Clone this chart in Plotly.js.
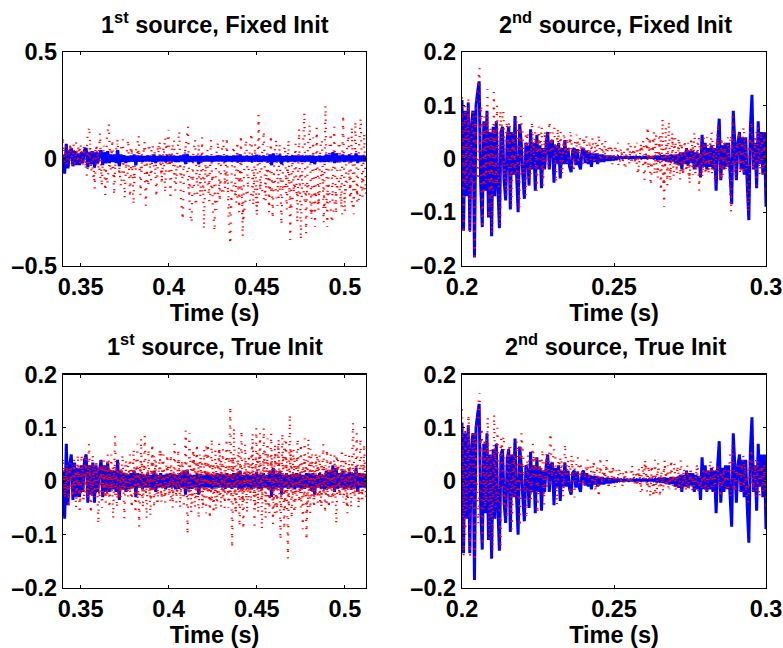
<!DOCTYPE html>
<html><head><meta charset="utf-8"><script src="https://cdn.plot.ly/plotly-3.0.1.min.js"></script>
<style>html,body{margin:0;padding:0;background:#fff}</style></head><body><div id="c" style="width:783px;height:648px"></div>
<script>
const titles=["1<sup>st</sup> source, Fixed Init","2<sup>nd</sup> source, Fixed Init","1<sup>st</sup> source, True Init","2<sup>nd</sup> source, True Init"];
const xSpan1=[0.34,0.512], xSpan2=[0.2,0.3], xSpanLeft=[0.34,0.362];
const xTicks1=[0.35,0.4,0.45,0.5], xLabels1=["0.35","0.4","0.45","0.5"];
const xTicks2=[0.2,0.25,0.3], xLabels2=["0.2","0.25","0.3"];
const yTicksA=[-0.5,0,0.5], yLabelsA=["–0.5","0","0.5"];
const yTicksB=[-0.2,-0.1,0,0.1,0.2], yLabelsB=["–0.2","–0.1","0","0.1","0.2"];

const blue1=[.02,-.07,.07,-.045,.03,.05,-.035,.035,-.03,.025,-.03,.03,-.02,.04,.05,-.04,.03,-.025,.035,-.04,.03,-.02,.02,.04,-.03,.03,-.02,.035,-.02,.02,-.015,.02,-.02,.04,-.035,.02,
-.015,.015,-.02,.012,-.015,.015,-.012,.02,-.03,.015,-.012,.014,-.015,.012,-.012,.014,-.012,.012,-.015,.02,-.02,.012,-.012,.015,-.012,.012,-.015,.014,-.012,.015,-.012,.014,-.015,.012,
-.014,.015,-.012,.02,-.025,.022,-.015,.012,-.014,.012,-.012,.014,-.025,.014,-.012,.012,-.012,.014,-.012,.012,-.014,.012,-.012,.015,-.012,.014,-.012,.012,-.014,.015,-.012,.012,-.014,.015,
-.012,.015,-.014,.02,-.015,.012,-.012,.014,-.012,.012,-.015,.014,-.012,.018,-.014,.012,-.014,.015,-.012,.012,-.015,.02,-.03,.025,-.015,.014,-.012,.02,-.025,.012,-.012,.015,-.014,.012,
-.012,.014,-.015,.015,-.012,.014,-.015,.012,-.014,.015,-.012,.014,-.018,.015,-.025,.012,-.012,.015,-.014,.012,-.015,.02,-.014,.018,-.012,.03,-.02,.025,-.014,.015,-.012,.02,-.015,.014,
-.012,.018,-.014,.015,-.012,.025,-.02,.015,-.012,.014,-.012,.014];

const red1=[.08,-.03,.07,-.02,.06,-.03,.07,-.03,.05,-.02,.07,-.04,.07,-.04,.12,.15,-.06,.04,-.14,.07,-.05,.12,-.13,.05,-.17,.11,.165,-.06,.09,-.17,.03,.09,-.08,.05,.09,-.185,.02,.09,-.18,.05,-.215,.02,.06,
.11,-.17,.04,.05,-.22,.03,.07,-.1,.06,.04,-.18,.02,.08,-.12,.05,-.16,.07,.135,-.19,.05,.09,-.1,.04,.13,-.2,-.285,.02,.08,.15,-.25,-.3,.03,.09,-.12,.07,-.18,.1,-.33,.02,.04,-.15,.09,-.22,-.34,.02,
.08,-.2,.03,.09,-.14,.1,-.28,-.4,.02,.06,-.18,.08,-.25,.11,-.365,.01,.09,-.14,.05,.12,-.22,.07,-.27,.205,-.15,.02,.13,-.2,.06,-.25,.11,-.28,.02,.09,-.16,.07,-.31,.02,.06,-.24,.09,-.38,.03,-.15,.07,
-.3,.14,-.38,.02,.215,-.35,.05,.16,-.27,.1,-.32,.145,-.24,.05,.09,-.3,.25,-.32,.02,.12,-.2,.15,-.26,.05,.08,-.22,.205,-.25,.03,.11,-.19,.15,-.26,.175,-.2,.05,.19,-.18,.12,-.17];
const red1b=[.05,.02,.06,.03,.08,.02,.05,-.08,.07,-.1,.05,-.09,.06,-.12,.04,-.1,.07,-.13,.03,-.07,.06,-.1,.05,-.06,.08,-.13,.04,-.07,.07,-.09,.1,-.06,.05,-.15,.02,-.1,.06,-.17,-.05,-.22,-.08,-.16,-.03,-.2,
-.07,-.24,-.1,-.17,-.05,-.26,-.12,-.21,-.06,-.28,-.14,-.2,-.06,-.25,-.1,-.19,-.05,-.16,-.07,-.22,-.1,-.15,-.04,-.24,-.12,-.18,-.06,-.2,-.11,-.28,-.15,-.22,-.05,-.24,-.12,-.3,-.18,-.1,-.26,-.14,-.06,-.23,-.13,-.2,-.08,-.17];
const red1left=[.09,-.02,.06,-.03,.05,-.01,.06,-.04,.05,-.03,.045,-.02,.05,-.03,.04,-.02,.05,-.03,.04,-.02,.05,-.04,.03,-.02,.04,-.03,.03,-.02,.03,-.03];

const red3wide=[.04,-.03,.03,-.05,.035,-.03,.04,-.05,.05,-.06,.05,-.04,.05,-.03,.07,-.06,.05,-.03,.04,-.08,.04,-.05,.04,-.04,.05,-.05,.05,-.07,.085,-.05,.04,-.03,.05,-.07,.04,-.03,.05,-.05,.06,-.06,.07,-.085,.08,-.05,.085,-.07,.06,-.065,.07,
-.05,.04,-.03,.06,-.04,.05,-.04,.03,-.03,.05,-.05,.07,-.04,.06,-.05,.04,-.05,.095,-.1,.09,-.06,.06,-.05,.07,-.07,.05,-.05,.06,-.06,.07,-.07,.08,-.06,.06,-.04,.07,-.05,.06,-.05,.08,-.05,.14,-.125,.1,-.06,.05,-.085,.095,-.09,.07,
-.06,.05,-.04,.09,-.09,.1,-.06,.09,-.09,.1,-.07,.08,-.06,.09,-.08,.07,-.06,.08,-.11,.09,-.09,.08,-.145,.125,-.07,.06,-.05,.05,-.04,.07,-.09,.08,-.11,.08,-.06,.05,-.05,.05,-.04,.05,-.05,.07,-.06,.06,-.05,.05,-.04,.05,-.08,.04,-.03,
.06,-.04,.05,-.06,.05,-.05,.11,-.03,.09,-.05,.08,-.04,.07,-.04];
const red3inner=[.035,-.03,.03,-.035,.03,-.03,.035,-.03,.03,-.035,.03,-.03,.03,-.03,.025,-.03,.03,-.025,.03,-.03,.025,-.025,.03,-.03,.025,-.02,.03,-.025,.02,-.03,.025,-.02,.03,-.025,.02,-.03,.035,-.025,.04,-.02,.03,-.03,.035,-.025,.03,-.03,
.04,-.03,.03,-.02,.025,-.03,.02,-.025,.03,-.02,.025,-.03,.02,-.025,.04,-.03,.03,-.02,.035,-.03,.04,-.04,.05,-.03,.035,-.025,.04,-.03,.03,-.025,.035,-.04,.03,-.025,.035,-.03,.04,-.03,.035,-.025,.04,-.03,.045,-.035,.03,-.025,.035,-.04,.03,
-.03,.04,-.025,.03,-.03,.045,-.035,.05,-.03,.04,-.04,.05,-.03,.05,-.04,.05,-.045,.04,-.03,.05,-.05,.04,-.05,.06,-.03,.04,-.03,.03,-.025,.035,-.03,.04,-.04,.035,-.03,.03,-.025,.03,-.03,.035,-.025,.03,-.025,.03,-.03,.025,-.025,
.03,-.02,.03,-.03,.025,-.025,.03,-.02,.035,-.025,.03,-.02,.025,-.03,.04,-.025];
const red3mid=[.02,-.02,.025,-.015,.02,-.02,.025,-.025,.03,-.02,.035,-.025,.03,-.03,.04,-.02,.035,-.03,.02,-.015,.03,-.02,.025,-.035,.04,-.02,.02,-.03,.05,-.045,.06,-.03,.05,-.04,.02,-.02,.03,-.015,.02,-.03,.045,-.025,.05,-.05,.07,-.04,.03,-.055,.06,-.03,.02,-.035,.05,-.06,.065,-.045,
.04,-.03,.07,-.05,.055,-.035,.06,-.05,.04,-.06,.07,-.055,.075,-.03,.06,-.06,.08,-.05,.045,-.06,.06,-.04,.05,-.045,.03,-.04,.035,-.03,.05,-.03,.04,-.045,.03,-.025,.03,-.035,.025,-.02];

const blue2=[.11,-.135,.09,-.07,.105,-.135,.06,.09,-.185,.10,.125,.145,-.05,-.128,.07,-.06,.09,-.11,.05,-.145,.06,-.07,.07,-.05,-.13,.05,.06,-.04,-.078,.04,.06,-.095,.05,-.03,.08,-.03,-.10,.065,.03,-.03,-.075,.03,.02,-.05,.055,-.02,.03,-.06,.045,-.02,
.025,-.055,.02,-.02,.03,.05,-.02,.03,.035,-.045,.025,-.01,.03,-.037,.02,-.01,.035,-.01,.02,-.015,-.025,.015,.02,-.012,.018,-.01,-.02,.015,.02,-.008,.015,-.01,.012,-.015,.01,-.006,.01,-.01,.008,-.006,.008,-.006,.006,-.004,.006,-.004,.005,-.003,.004,-.002,
.004,.001,.003,.001,.003,.002,.003,.001,.003,.002,.003,.001,.003,.002,.003,.001,.003,.002,.003,.001,.003,.002,.003,.001,.004,0,.005,-.002,.006,-.003,.007,-.005,.006,-.006,.008,-.005,.007,-.01,.008,-.012,.012,-.02,.012,-.01,.02,-.012,.015,-.008,.015,-.02,
.012,-.015,.01,-.035,.045,-.015,.03,-.02,.02,-.015,.025,-.02,.02,-.06,.03,.075,-.04,.025,-.02,.03,-.015,.03,-.03,-.085,.09,.03,-.04,.03,.05,-.02,.04,-.03,.04,-.05,-.115,.06,.12,-.02,.03,-.055,.07,-.01,.05,-.03,.05,-.09];

const red2=[.115,-.14,.1,-.05,.115,-.14,.05,.09,-.19,.10,.14,.17,-.03,-.13,.08,-.04,.13,-.11,.06,-.14,.125,-.05,.10,-.04,-.125,.07,.09,-.03,-.07,.06,.07,-.09,.05,-.03,.08,.02,-.095,.08,.05,-.02,-.07,.05,.03,-.03,.07,.01,.05,-.06,.04,.01,
.06,-.05,.05,-.01,.04,.07,.01,.05,.06,-.045,.05,.01,.05,-.03,.045,.01,.04,.01,.05,-.02,-.02,.03,.045,-.01,.04,.01,-.01,.035,.045,.005,.03,-.005,.04,-.01,.03,.005,.045,-.005,.03,.01,.035,-.005,.02,.005,.025,-.005,.02,.01,.03,.0,
.02,-.005,.015,.005,.02,-.01,.025,.005,.02,-.01,.03,-.015,.025,.01,.035,-.015,.03,-.02,.04,-.02,.035,-.03,.05,-.035,.04,-.06,.075,-.09,.06,-.05,.07,-.04,.05,-.035,.04,-.03,.035,-.04,.03,-.03,.035,-.025,.03,-.045,.04,-.03,.05,-.02,.03,-.06,
.035,-.03,.04,-.03,.04,-.02,.035,-.03,.03,-.05,.03,.065,-.04,.04,-.03,.03,-.02,.04,-.03,-.1,.08,.03,-.04,.03,.05,-.02,.04,-.03,.04,-.05,-.1,.05,.07,-.02,.04,-.05,.06,-.01,.05,-.03,.05,-.07];
const red2b=[.08,-.05,.09,-.08,.07,-.04,.1,-.06,.08,-.07,.06,-.05,.09,-.04,.07,-.06,.05,-.04,.06,-.03,.05,-.05,.04,-.02,.06,-.03,.05,-.02,.04,-.01,.055,-.02,.04,-.01,.045,-.02,.035,.01,.04,-.01,.03,.005,.03,-.01,.02,.005,.025,-.01,.02,-.015,
.015,-.02,.03,-.01,.025,-.03,.03,-.04,.06,-.05,.05,-.03,.045,-.05,.03,-.035,.04,-.02,.035,-.03,.02,-.04,.03,-.03,.04,-.035,.02,-.03,.05,-.02,.04,-.04,.03,-.02,.045,-.03,.03,-.03,.06,-.02,.04,-.02,.05,-.03,.03,-.01];

const red4=[.135,-.14,.10,-.05,.125,-.14,.05,.09,-.15,.10,.14,.165,-.03,-.12,.08,-.04,.12,-.11,.06,-.13,.125,-.05,.10,-.04,-.125,.07,.085,-.03,-.07,.06,.07,-.09,.05,-.03,.075,.02,-.085,.09,.05,-.02,-.07,.05,.03,-.03,.07,.01,.05,-.06,.04,.01,
.06,-.05,.05,-.01,.04,.09,.01,.06,.05,-.045,.04,.01,.04,-.03,.07,.01,.04,.01,.05,-.015,-.03,.03,.045,-.01,.03,.01,-.01,.03,.04,-.005,.03,-.005,.04,-.02,.03,-.03,.045,-.005,.03,.005,.04,-.01,.025,.005,.03,-.01,.02,.005,.025,0,
.015,-.004,.02,.002,.01,-.005,.02,.005,.015,-.01,.02,-.02,.03,.005,.04,-.02,.03,-.03,.025,-.03,.04,-.025,.035,-.03,.02,-.02,.04,-.01,.03,-.015,.04,-.01,.035,-.02,.03,-.015,.04,-.01,.025,-.02,.03,-.015,.02,-.02,.015,-.015,.03,-.02,
.01,-.015,.02,-.02,.025,-.012,.02,-.01,.03,-.02,.02,.03,-.015,.02,-.01,.025,-.01,.02,-.015,-.03,.07,.02,-.02,.02,.03,-.01,.035,-.02,.03,-.03,-.04,.04,.06,-.015,.03,-.03,.04,-.01,.03,-.02,.03,-.05];
const red4b=[.1,-.1,.12,-.06,.09,-.08,.1,-.05,.07,-.07,.06,-.04,.08,-.05,.06,-.06,.05,-.03,.07,-.02,.04,-.04,.05,-.02,.04,-.03,.05,-.01,.03,-.02,.045,-.01,.03,-.025,.04,.005,.03,-.01,.025,.005,.03,-.005,.02,0,.025,-.01,.02,-.005,
.015,-.01,.02,-.005,.03,-.01,.025,-.02,.035,-.015,.03,-.02,.025,-.01,.03,-.015,.02,-.01,.025,-.02,.015,-.015,.02,-.01,.03,-.01,.02,-.02,.04,-.01,.03,-.03,.02,-.02,.05,-.02,.03,-.02,.05,-.02,.04,-.02,.04,-.03,.03,-.02];

function grid(span,vals){return vals.map((_,i)=>span[0]+(span[1]-span[0])*i/(vals.length-1));}
const BLUE="#0000ff", RED="#ff0000";
function bl(span,v,ax){return {type:"scatter",mode:"lines",x:grid(span,v),y:v,xaxis:"x"+ax,yaxis:"y"+ax,line:{color:BLUE,width:3,simplify:false},hoverinfo:"skip",showlegend:false};}
function rd(span,v,ax){return {type:"scatter",mode:"lines",x:grid(span,v),y:v,xaxis:"x"+ax,yaxis:"y"+ax,line:{color:RED,width:2.2,dash:"1.2px,7px",simplify:false},hoverinfo:"skip",showlegend:false};}
const data=[rd(xSpan1,red1,""),rd(xSpan1,red1b,""),bl(xSpan1,blue1,""),rd(xSpanLeft,red1left,""),
 bl(xSpan2,blue2,2),rd(xSpan2,red2,2),rd(xSpan2,red2b,2),
 bl(xSpan1,blue1,3),rd(xSpan1,red3wide,3),rd(xSpan1,red3mid,3),rd(xSpan1,red3inner,3),
 bl(xSpan2,blue2,4),rd(xSpan2,red4,4),rd(xSpan2,red4b,4)];
const F="Liberation Sans, Arial, sans-serif";
const W=783,H=648;
function xa(dom,span,tv,tt,anchor){return {domain:[dom[0]/W,dom[1]/W],range:span,tickmode:"array",tickvals:tv,ticktext:tt,ticks:"inside",ticklen:3,tickcolor:"#000",tickwidth:1,showline:true,linecolor:"#000",linewidth:1.2,mirror:"ticks",showgrid:false,zeroline:false,anchor:anchor,
 tickfont:{family:F,size:23.5,color:"#000",weight:700},title:{text:"Time (s)",font:{family:F,size:23.5,color:"#000",weight:700},standoff:5}};}
function ya(dom,span,tv,tt,anchor){return {domain:[1-dom[1]/H,1-dom[0]/H],range:span,tickmode:"array",tickvals:tv,ticktext:tt,ticks:"inside",ticklen:3,tickcolor:"#000",tickwidth:1,showline:true,linecolor:"#000",linewidth:1.2,mirror:"ticks",showgrid:false,zeroline:false,anchor:anchor,
 tickfont:{family:F,size:23.5,color:"#000",weight:700}};}
const XL=[63,366],XR=[462,766],YT=[52,265.5],YB=[374.5,588];
function ann(t,cx,cy){return {text:t,xref:"paper",yref:"paper",x:cx/W,y:1-cy/H,xanchor:"center",yanchor:"middle",showarrow:false,font:{family:F,size:23.5,color:"#000",weight:700}};}
const layout={width:W,height:H,margin:{l:0,r:0,t:0,b:0},paper_bgcolor:"#fff",plot_bgcolor:"#fff",showlegend:false,
 xaxis:xa(XL,xSpan1,xTicks1,xLabels1,"y"),yaxis:ya(YT,[-.5,.5],yTicksA,yLabelsA,"x"),
 xaxis2:xa(XR,xSpan2,xTicks2,xLabels2,"y2"),yaxis2:ya(YT,[-.2,.2],yTicksB,yLabelsB,"x2"),
 xaxis3:xa(XL,xSpan1,xTicks1,xLabels1,"y3"),yaxis3:ya(YB,[-.2,.2],yTicksB,yLabelsB,"x3"),
 xaxis4:xa(XR,xSpan2,xTicks2,xLabels2,"y4"),yaxis4:ya(YB,[-.2,.2],yTicksB,yLabelsB,"x4"),
 annotations:[ann(titles[0],215,23),ann(titles[1],615,23),ann(titles[2],215,345),ann(titles[3],615,345)]};
Plotly.newPlot("c",data,layout,{displayModeBar:false,staticPlot:true});
</script></body></html>
